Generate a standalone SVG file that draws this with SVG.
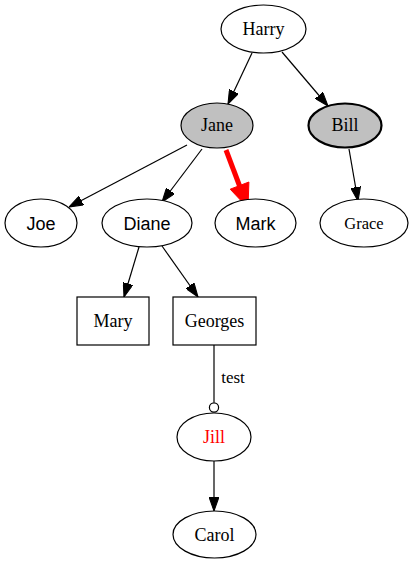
<svg xmlns="http://www.w3.org/2000/svg" width="410" height="564" viewBox="0 0 410 564">
<defs>
<style>
.n{fill:#fff;stroke:#000;stroke-width:1.2}
.g{fill:#c0c0c0}
.e{stroke:#000;stroke-width:1.2;fill:none}
.s{font-family:"Liberation Serif","Times New Roman",serif;font-size:18px;text-anchor:middle;fill:#000}
.a{font-family:"Liberation Sans",Arial,sans-serif;font-size:18px;text-anchor:middle;fill:#000}
</style>
<marker id="ah" markerUnits="userSpaceOnUse" markerWidth="14" markerHeight="10" refX="13.3" refY="4.7" orient="auto" viewBox="0 0 13.3 9.4">
<path d="M0,0 L13.3,4.7 L0,9.4 z" fill="#000" stroke="#000" stroke-width="1"/>
</marker>
</defs>
<g id="edges">
<line class="e" x1="252" y1="53" x2="228" y2="104" marker-end="url(#ah)"/>
<line class="e" x1="282" y1="52" x2="328" y2="106" marker-end="url(#ah)"/>
<line class="e" x1="187" y1="145" x2="69" y2="207" marker-end="url(#ah)"/>
<line class="e" x1="202" y1="149" x2="162" y2="202" marker-end="url(#ah)"/>
<line x1="226" y1="150" x2="240" y2="187" stroke="#f00" stroke-width="5"/>
<polygon points="248.9,182 248,208 230.2,189.2" fill="#f00" stroke="#f00" stroke-width="1"/>
<line class="e" x1="349" y1="149" x2="358" y2="201" marker-end="url(#ah)"/>
<line class="e" x1="139" y1="247" x2="124" y2="297" marker-end="url(#ah)"/>
<line class="e" x1="162" y1="246" x2="198" y2="297" marker-end="url(#ah)"/>
<line class="e" x1="214" y1="345" x2="214" y2="402.5"/>
<circle cx="214" cy="407.5" r="4.6" fill="#fff" stroke="#000" stroke-width="1.2"/>
<text class="s" x="233" y="383" style="font-size:17px">test</text>
<line class="e" x1="214" y1="461" x2="214" y2="511" marker-end="url(#ah)"/>
</g>
<g id="Harry"><ellipse class="n" cx="263.5" cy="29" rx="42.5" ry="24"/><text class="s" x="263.5" y="35">Harry</text></g>
<g id="Jane"><ellipse class="n g" cx="217" cy="125.5" rx="36" ry="22.5"/><text class="s" x="217" y="131">Jane</text></g>
<g id="Bill"><ellipse class="n g" cx="345" cy="125.5" rx="36.5" ry="22" style="stroke-width:2.2"/><text class="s" x="345" y="131">Bill</text></g>
<g id="Joe"><ellipse class="n" cx="41" cy="223" rx="36" ry="24"/><text class="a" x="41" y="229.5">Joe</text></g>
<g id="Diane"><ellipse class="n" cx="147" cy="223" rx="45" ry="24"/><text class="a" x="147" y="229.5">Diane</text></g>
<g id="Mark"><ellipse class="n" cx="255.5" cy="223" rx="40.5" ry="24"/><text class="a" x="255.5" y="229.5">Mark</text></g>
<g id="Grace"><ellipse class="n" cx="364" cy="223" rx="44" ry="24"/><text class="s" x="364" y="228.5" style="font-size:16.5px">Grace</text></g>
<g id="Mary"><rect class="n" x="77" y="297" width="72" height="48"/><text class="s" x="113" y="327">Mary</text></g>
<g id="Georges"><rect class="n" x="173" y="297" width="83" height="48"/><text class="s" x="214.5" y="327">Georges</text></g>
<g id="Jill"><ellipse class="n" cx="214" cy="437" rx="37" ry="24"/><text class="s" x="214" y="443" style="fill:#f00">Jill</text></g>
<g id="Carol"><ellipse class="n" cx="214.5" cy="534.5" rx="41.5" ry="23.5"/><text class="s" x="214.5" y="540.5">Carol</text></g>
</svg>
